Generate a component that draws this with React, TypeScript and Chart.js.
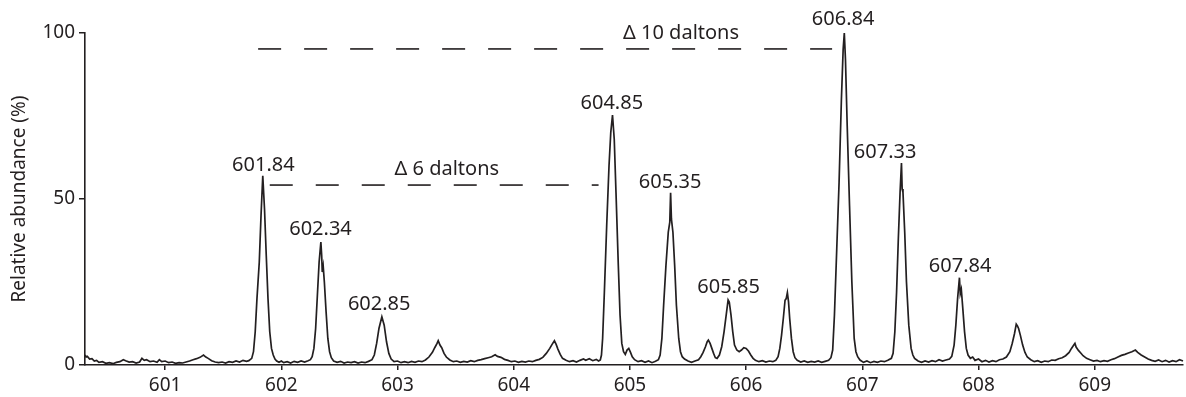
import React, { useEffect, useRef } from 'react';
import { Chart, registerables } from 'chart.js';

Chart.register(...registerables);

const xTickValues = [601, 602, 603, 604, 605, 606, 607, 608, 609];
const yTickValues = [0, 50, 100];
const xRange = [600.31, 609.76];
const yRange = [0, 100];

// m/z, relative abundance (%)
const spectrumPoints: [number, number][] = [
  [600.31, 3.0], [600.32, 2.4], [600.33, 2.6], [600.35, 1.8], [600.37, 1.9], [600.39, 1.2], [600.41, 1.4], [600.43, 0.8],
  [600.46, 1.0], [600.49, 0.5], [600.52, 0.7], [600.55, 0.4], [600.58, 0.8], [600.61, 1.0], [600.64, 1.6], [600.66, 1.3],
  [600.69, 0.9], [600.72, 1.0], [600.75, 0.6], [600.78, 0.9], [600.80, 2.0], [600.82, 1.4], [600.84, 1.6], [600.87, 1.0],
  [600.90, 1.2], [600.93, 0.8], [600.95, 1.6], [600.97, 1.0], [601.00, 1.2], [601.03, 0.7], [601.06, 0.9], [601.09, 0.5],
  [601.12, 0.7], [601.15, 0.6], [601.18, 0.9], [601.21, 1.2], [601.24, 1.6], [601.27, 1.9], [601.30, 2.3], [601.33, 3.0],
  [601.35, 2.4], [601.37, 2.0], [601.40, 1.3], [601.43, 0.9], [601.46, 0.7], [601.49, 0.9], [601.52, 0.6], [601.55, 1.0],
  [601.58, 0.8], [601.61, 1.2], [601.64, 0.9], [601.67, 1.4], [601.70, 1.1], [601.72, 1.3],
  [601.745, 2.0], [601.76, 4.0], [601.775, 10], [601.79, 20], [601.81, 31], [601.825, 45], [601.84, 57], [601.855, 47],
  [601.87, 33], [601.885, 20], [601.90, 10], [601.915, 5], [601.93, 3], [601.945, 1.8], [601.96, 1.2], [601.98, 0.8],
  [602.00, 1.2], [602.02, 0.7], [602.05, 1.0], [602.08, 0.6], [602.11, 1.1], [602.14, 0.8], [602.17, 1.2], [602.20, 0.9],
  [602.23, 1.3], [602.25, 1.6],
  [602.265, 2.5], [602.28, 5], [602.295, 11], [602.31, 21], [602.325, 31], [602.34, 37], [602.347, 33], [602.352, 28],
  [602.36, 29.8], [602.37, 25], [602.385, 16], [602.40, 8], [602.415, 4], [602.43, 2.2], [602.45, 1.2], [602.48, 0.8],
  [602.51, 1.1], [602.54, 0.6], [602.57, 0.9], [602.60, 0.7], [602.63, 1.0], [602.66, 0.6], [602.69, 0.9], [602.72, 0.7],
  [602.75, 1.1], [602.78, 1.6],
  [602.80, 3], [602.82, 6.5], [602.84, 11], [602.865, 14.5], [602.885, 12], [602.905, 7], [602.925, 3.5], [602.945, 1.8],
  [602.97, 1.0], [603.00, 1.2], [603.03, 0.7], [603.06, 1.0], [603.09, 0.7], [603.12, 1.1], [603.15, 0.8], [603.18, 1.2],
  [603.21, 1.0], [603.24, 1.5],
  [603.27, 2.4], [603.30, 3.8], [603.32, 5.2], [603.34, 6.5], [603.35, 7.3], [603.365, 6.0], [603.38, 5.2], [603.40, 3.5],
  [603.42, 2.4], [603.45, 1.5], [603.48, 1.0], [603.51, 1.2], [603.54, 0.8], [603.57, 1.1], [603.60, 0.9], [603.63, 1.3],
  [603.66, 1.0], [603.69, 1.4], [603.72, 1.6], [603.75, 1.9], [603.78, 2.2], [603.81, 2.5], [603.84, 3.1], [603.86, 2.6],
  [603.89, 2.3], [603.92, 1.7], [603.95, 1.4], [603.98, 1.0], [604.01, 1.2], [604.04, 0.8], [604.07, 1.1], [604.10, 0.9],
  [604.13, 1.2], [604.16, 1.0], [604.19, 1.4], [604.22, 1.7], [604.25, 2.3],
  [604.28, 3.5], [604.31, 5.0], [604.33, 6.2], [604.35, 7.3], [604.365, 6.2], [604.38, 4.8], [604.40, 3.2], [604.42, 2.0],
  [604.45, 1.4], [604.48, 1.0], [604.51, 1.3], [604.54, 0.9], [604.57, 1.4], [604.60, 1.8], [604.62, 1.4], [604.65, 1.9],
  [604.68, 1.3], [604.71, 1.7], [604.73, 1.2], [604.745, 1.5],
  [604.755, 3], [604.765, 8], [604.78, 22], [604.80, 42], [604.82, 60], [604.835, 70], [604.85, 75.3], [604.865, 68],
  [604.88, 52], [604.90, 30], [604.915, 15], [604.93, 6.5], [604.945, 4], [604.96, 3.2], [604.975, 4.5], [604.99, 5.0],
  [605.005, 3.8], [605.02, 2.5], [605.04, 1.6], [605.07, 1.0], [605.10, 1.3], [605.13, 0.8], [605.16, 1.2], [605.19, 0.7],
  [605.22, 1.1], [605.245, 1.6],
  [605.26, 3], [605.275, 8], [605.29, 18], [605.31, 30], [605.33, 40], [605.343, 43], [605.35, 51.9], [605.357, 44],
  [605.37, 40], [605.385, 30], [605.40, 18], [605.42, 8], [605.435, 4], [605.45, 2.5], [605.47, 1.8], [605.50, 1.2],
  [605.53, 0.8], [605.56, 1.2], [605.59, 1.6], [605.61, 2.5],
  [605.63, 3.8], [605.65, 5.5], [605.665, 7.0], [605.675, 7.5], [605.69, 6.5], [605.705, 5.0], [605.72, 3.5], [605.735, 2.2],
  [605.75, 2.0], [605.77, 3.0],
  [605.79, 5.5], [605.81, 10], [605.83, 15.5], [605.845, 19.6], [605.855, 19.0], [605.87, 15], [605.885, 10], [605.90, 6.0],
  [605.92, 4.5], [605.94, 4.0], [605.96, 4.5], [605.98, 5.2], [606.00, 5.0], [606.02, 4.2], [606.04, 3.0], [606.06, 2.0],
  [606.08, 1.4], [606.11, 1.0], [606.14, 1.3], [606.17, 0.9], [606.20, 1.2], [606.23, 1.0], [606.255, 1.4], [606.275, 2.5],
  [606.29, 5], [606.305, 9], [606.32, 14], [606.335, 19.5], [606.345, 20], [606.355, 21.8], [606.365, 19], [606.375, 14],
  [606.39, 8], [606.405, 4], [606.42, 2.2], [606.44, 1.4], [606.47, 0.9], [606.50, 1.2], [606.53, 0.8], [606.56, 1.1],
  [606.59, 0.9], [606.62, 1.2], [606.65, 0.8], [606.68, 1.1], [606.71, 1.4], [606.73, 2.2],
  [606.745, 4.5], [606.76, 15], [606.78, 35], [606.80, 55], [606.82, 80], [606.835, 95], [606.845, 100], [606.855, 92],
  [606.87, 72], [606.89, 48], [606.91, 25], [606.93, 8], [606.945, 4], [606.96, 2.5], [606.98, 1.5], [607.01, 0.8],
  [607.04, 1.2], [607.07, 0.7], [607.10, 1.1], [607.13, 0.8], [607.16, 1.2], [607.19, 1.0], [607.22, 1.4], [607.25, 2.0],
  [607.265, 3.5], [607.28, 10], [607.295, 22], [607.31, 38], [607.325, 52], [607.337, 60.8], [607.343, 53], [607.35, 52],
  [607.365, 40], [607.38, 25], [607.40, 12], [607.42, 5], [607.435, 3], [607.45, 2.0], [607.48, 1.2], [607.51, 0.8],
  [607.54, 1.2], [607.57, 0.9], [607.60, 1.3], [607.63, 1.0], [607.66, 1.6], [607.69, 1.2], [607.72, 1.5], [607.75, 1.8],
  [607.77, 2.6],
  [607.79, 6], [607.805, 12], [607.82, 20], [607.836, 26.3], [607.843, 21.5], [607.852, 22.8], [607.865, 17], [607.88, 10],
  [607.895, 5], [607.91, 3], [607.93, 2.0], [607.95, 2.4], [607.97, 1.4], [608.00, 1.8], [608.03, 1.0], [608.06, 1.4],
  [608.09, 0.9], [608.12, 1.3], [608.15, 1.0], [608.18, 1.6], [608.21, 1.8], [608.24, 2.4],
  [608.27, 4.0], [608.29, 6.5], [608.31, 9.5], [608.325, 12.3], [608.335, 11.8], [608.345, 11.0], [608.36, 9.0], [608.38, 6.0],
  [608.40, 3.8], [608.42, 2.4], [608.45, 1.6], [608.48, 1.0], [608.51, 1.3], [608.54, 0.8], [608.57, 1.2], [608.60, 1.0],
  [608.63, 1.5], [608.66, 1.4], [608.69, 1.9], [608.72, 2.2], [608.75, 2.8],
  [608.78, 3.8], [608.80, 5.0], [608.82, 6.0], [608.83, 6.5], [608.84, 5.4], [608.86, 4.4], [608.88, 3.6], [608.90, 2.8],
  [608.93, 2.0], [608.96, 1.6], [608.99, 1.2], [609.02, 1.4], [609.05, 1.0], [609.08, 1.3], [609.11, 1.1], [609.14, 1.6],
  [609.17, 1.9], [609.20, 2.4], [609.23, 2.9], [609.26, 3.2], [609.29, 3.6], [609.32, 4.0], [609.35, 4.5], [609.37, 3.8],
  [609.40, 3.0], [609.43, 2.4], [609.46, 1.8], [609.49, 1.4], [609.52, 1.1], [609.55, 1.5], [609.58, 1.0], [609.61, 1.4],
  [609.64, 0.9], [609.67, 1.3], [609.70, 1.0], [609.73, 1.6], [609.76, 1.2],
];

const peakLabels = ['601.84', '602.34', '602.85', '604.85', '605.35', '605.85', '606.84', '607.33', '607.84'];
const peakLabelMz = [601.845, 602.337, 602.842, 604.844, 605.346, 605.849, 606.835, 607.196, 607.842];
const peakLabelAbundance = [60.2, 40.8, 18.2, 78.9, 55.1, 23.3, 104.0, 64.2, 29.7];

const deltaTexts = ['\u0394 6 daltons', '\u0394 10 daltons'];
const deltaTextMz = [603.424, 605.44];
const deltaTextAbundance = [59.0, 100.0];
const deltaFromMz = [601.90, 601.80];
const deltaToMz = [604.73, 606.74];
const deltaLevel = [54.2, 95.2];

const INK = '#231f20';
const FONT = '"Noto Sans", sans-serif';

export default function App() {
  const canvasRef = useRef<HTMLCanvasElement | null>(null);

  useEffect(() => {
    const canvas = canvasRef.current;
    if (!canvas) return;

    const textPlugin = {
      id: 'peakText',
      afterDatasetsDraw(chart: any) {
        const { ctx, scales } = chart;
        const xs = scales.x;
        const ys = scales.y;
        ctx.save();
        ctx.fillStyle = INK;
        ctx.textAlign = 'center';
        ctx.textBaseline = 'middle';
        ctx.font = `20px ${FONT}`;
        peakLabels.forEach((t, i) => {
          ctx.fillText(t, xs.getPixelForValue(peakLabelMz[i]), ys.getPixelForValue(peakLabelAbundance[i]));
        });
        deltaTexts.forEach((t, i) => {
          ctx.fillText(t, xs.getPixelForValue(deltaTextMz[i]), ys.getPixelForValue(deltaTextAbundance[i]));
        });
        ctx.restore();
      },
    };

    const dashSets = deltaTexts.map((_, i) => ({
      data: [
        { x: deltaFromMz[i], y: deltaLevel[i] },
        { x: deltaToMz[i], y: deltaLevel[i] },
      ],
      borderColor: INK,
      borderWidth: 1.6,
      borderDash: [23, 23],
      pointRadius: 0,
      fill: false,
      clip: false as any,
    }));

    const chart = new Chart(canvas, {
      type: 'line',
      data: {
        datasets: [
          {
            data: spectrumPoints.map(([x, y]) => ({ x, y })),
            borderColor: INK,
            borderWidth: 1.7,
            pointRadius: 0,
            tension: 0,
            fill: false,
            clip: false as any,
          },
          ...dashSets,
        ],
      },
      options: {
        responsive: false,
        animation: false,
        layout: { padding: { top: 33, right: 3, left: 0, bottom: 0 } },
        plugins: { legend: { display: false }, tooltip: { enabled: false } },
        scales: {
          x: {
            type: 'linear',
            min: xRange[0],
            max: xRange[1],
            afterBuildTicks: (s: any) => {
              s.ticks = xTickValues.map((v) => ({ value: v }));
            },
            afterFit: (s: any) => {
              s.height = 32;
            },
            grid: { drawOnChartArea: false, drawTicks: true, tickLength: 5, color: INK, lineWidth: 1.5 },
            border: { display: true, color: INK, width: 1.6 },
            ticks: {
              color: INK,
              font: { family: FONT, size: 19 },
              padding: 4,
              maxRotation: 0,
              callback: (v: any) => String(v),
            },
          },
          y: {
            type: 'linear',
            min: yRange[0],
            max: yRange[1],
            afterBuildTicks: (s: any) => {
              s.ticks = yTickValues.map((v) => ({ value: v }));
            },
            afterFit: (s: any) => {
              s.width = 85;
            },
            grid: { drawOnChartArea: false, drawTicks: true, tickLength: 6, color: INK, lineWidth: 1.5 },
            border: { display: true, color: INK, width: 1.6 },
            ticks: {
              color: INK,
              font: { family: FONT, size: 19 },
              padding: 4,
              callback: (v: any) => String(v),
            },
            title: {
              display: true,
              text: 'Relative abundance (%)',
              color: INK,
              font: { family: FONT, size: 19 },
              padding: { top: 8, bottom: 0 },
            },
          },
        },
      },
      plugins: [textPlugin],
    } as any);

    return () => chart.destroy();
  }, []);

  return (
    <div style={{ position: 'fixed', left: 0, top: 0, width: 1186, height: 397, background: '#fff' }}>
      <canvas ref={canvasRef} width={1186} height={397} style={{ display: 'block' }} />
    </div>
  );
}
